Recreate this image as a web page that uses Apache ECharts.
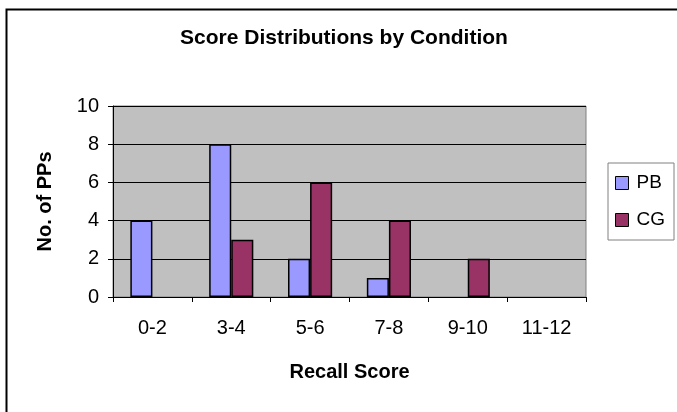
<!DOCTYPE html>
<html>
<head>
<meta charset="utf-8">
<script src="https://cdn.jsdelivr.net/npm/echarts@6/dist/echarts.min.js"></script>
<style>
  html, body { margin: 0; padding: 0; background: #fff; }
  #chart { width: 677px; height: 412px; }
</style>
</head>
<body>
<div id="chart"></div>
<script>
const categories = ['0-2', '3-4', '5-6', '7-8', '9-10', '11-12'];
const pbValues = [4, 8, 2, 1, 0, 0];
const cgValues = [0, 3, 6, 4, 2, 0];
const yTicks = { min: 0, max: 10, interval: 2 };

const font = 'Arial, "Liberation Sans", sans-serif';

// Excel leaves zero-height bars invisible
const hideZero = arr => arr.map(v => (v === 0 ? null : v));

const myChart = echarts.init(document.getElementById('chart'));

const option = {
  backgroundColor: '#fff',
  animation: false,
  title: {
    text: 'Score Distributions by Condition',
    left: 344,
    textAlign: 'center',
    top: 28,
    padding: 0,
    textStyle: { fontFamily: font, fontSize: 21, fontWeight: 'bold', color: '#000' }
  },
  graphic: [
    {
      type: 'rect',
      shape: { x: 6.5, y: 9.5, width: 700, height: 420 },
      style: { fill: 'none', stroke: '#000', lineWidth: 2 },
      silent: true
    }
  ],
  legend: {
    orient: 'vertical',
    left: 608,
    top: 163,
    padding: [10, 9, 10, 7],
    itemGap: 17,
    itemWidth: 13,
    itemHeight: 13,
    borderColor: '#808080',
    borderWidth: 1,
    backgroundColor: '#fff',
    textStyle: { fontFamily: font, fontSize: 19, color: '#000', lineHeight: 20, padding: [0, 0, 0, 3] },
    data: [
      { name: 'PB', icon: 'rect', itemStyle: { borderColor: '#000', borderWidth: 1 } },
      { name: 'CG', icon: 'rect', itemStyle: { borderColor: '#000', borderWidth: 1 } }
    ]
  },
  grid: {
    left: 113,
    top: 106,
    width: 473,
    height: 191,
    show: true,
    backgroundColor: '#C0C0C0',
    borderColor: '#808080',
    borderWidth: 1,
    containLabel: false
  },
  xAxis: {
    type: 'category',
    data: categories,
    boundaryGap: true,
    name: 'Recall Score',
    nameLocation: 'middle',
    nameGap: 65,
    nameTextStyle: { fontFamily: font, fontSize: 20, fontWeight: 'bold', color: '#000' },
    axisLine: { show: true, lineStyle: { color: '#000', width: 1 } },
    axisTick: { show: true, length: 5, lineStyle: { color: '#000' } },
    axisLabel: { fontFamily: font, fontSize: 20, color: '#000', margin: 21 },
    splitLine: { show: false }
  },
  yAxis: {
    type: 'value',
    min: yTicks.min,
    max: yTicks.max,
    interval: yTicks.interval,
    name: 'No. of PPs',
    nameLocation: 'middle',
    nameRotate: 90,
    nameGap: 58,
    nameTextStyle: { fontFamily: font, fontSize: 20, fontWeight: 'bold', color: '#000' },
    axisLine: { show: true, lineStyle: { color: '#000', width: 1 } },
    axisTick: { show: true, length: 5, lineStyle: { color: '#000' } },
    axisLabel: { fontFamily: font, fontSize: 20, color: '#000', margin: 14 },
    splitLine: { show: true, lineStyle: { color: '#000', width: 1 } }
  },
  series: [
    {
      name: 'PB',
      type: 'bar',
      data: hideZero(pbValues),
      barGap: '0%',
      barCategoryGap: '44%',
      itemStyle: { color: '#9999FF', borderColor: '#000', borderWidth: 1.5 }
    },
    {
      name: 'CG',
      type: 'bar',
      data: hideZero(cgValues),
      barGap: '0%',
      barCategoryGap: '44%',
      itemStyle: { color: '#993366', borderColor: '#000', borderWidth: 1.5 }
    }
  ]
};

myChart.setOption(option);

window.addEventListener('resize', () => {
  myChart.resize();
});
</script>
</body>
</html>
